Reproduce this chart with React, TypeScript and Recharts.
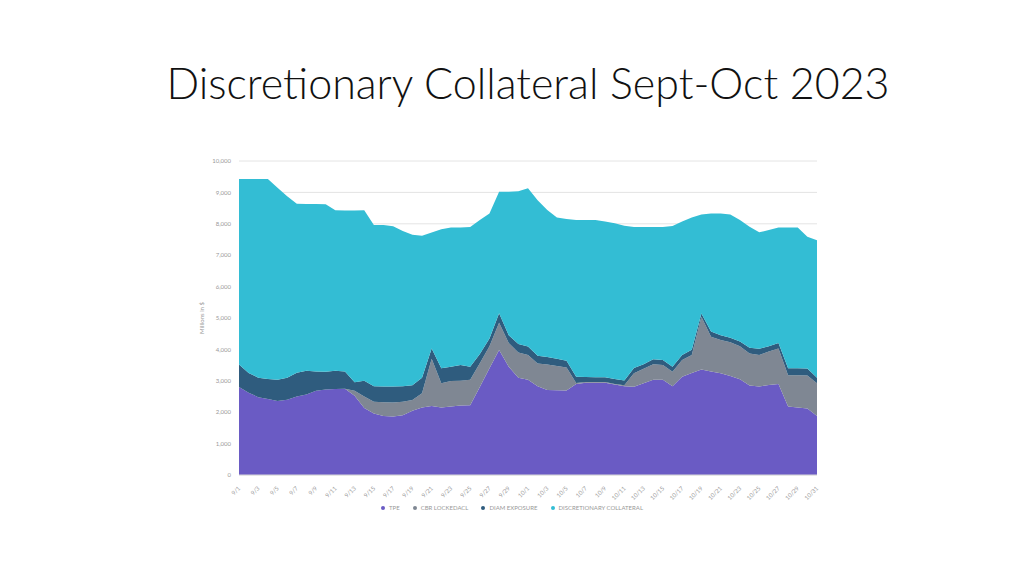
import React from 'react';
import { AreaChart, Area, XAxis, YAxis, CartesianGrid } from 'recharts';

const dates = [
  '9/1', '9/2', '9/3', '9/4', '9/5', '9/6', '9/7', '9/8', '9/9', '9/10',
  '9/11', '9/12', '9/13', '9/14', '9/15', '9/16', '9/17', '9/18', '9/19', '9/20',
  '9/21', '9/22', '9/23', '9/24', '9/25', '9/26', '9/27', '9/28', '9/29', '9/30',
  '10/1', '10/2', '10/3', '10/4', '10/5', '10/6', '10/7', '10/8', '10/9', '10/10',
  '10/11', '10/12', '10/13', '10/14', '10/15', '10/16', '10/17', '10/18', '10/19', '10/20',
  '10/21', '10/22', '10/23', '10/24', '10/25', '10/26', '10/27', '10/28', '10/29', '10/30',
  '10/31',
];

// millions of $
const tpe = [
  2800, 2620, 2480, 2420, 2360, 2400, 2500, 2560, 2680, 2720,
  2740, 2750, 2520, 2130, 1960, 1880, 1860, 1900, 2050, 2150,
  2200, 2150, 2180, 2210, 2220, 2800, 3400, 3980, 3450, 3100,
  3030, 2830, 2710, 2700, 2690, 2900, 2940, 2940, 2940, 2880,
  2830, 2810, 2920, 3030, 3030, 2830, 3130, 3250, 3360, 3300,
  3240, 3150, 3050, 2850, 2820, 2870, 2900, 2180, 2150, 2120,
  1880,
];
const cbrLocked = [
  0, 0, 0, 0, 0, 0, 0, 0, 0, 0,
  0, 0, 160, 370, 370, 440, 450, 430, 340, 450,
  1500, 770, 810, 790, 810, 760, 700, 870, 750, 800,
  790, 720, 810, 770, 730, 30, 20, 20, 20, 20,
  30, 430, 460, 500, 470, 460, 530, 570, 1680, 1100,
  1060, 1080, 1050, 1020, 1000, 1060, 1130, 1000, 1030, 1050,
  1040,
];
const diamExposure = [
  720, 630, 620, 640, 670, 700, 760, 760, 620, 570,
  580, 550, 270, 500, 500, 500, 510, 500, 470, 500,
  330, 480, 460, 500, 420, 290, 250, 300, 250, 270,
  270, 250, 240, 230, 220, 200, 160, 150, 150, 160,
  150, 170, 150, 160, 160, 160, 160, 170, 100, 170,
  150, 140, 150, 180, 200, 170, 170, 220, 220, 220,
  180,
];
const discretionary = [
  5910, 6180, 6330, 6370, 6120, 5780, 5380, 5310, 5330, 5330,
  5110, 5120, 5470, 5430, 5130, 5140, 5100, 4940, 4790, 4520,
  3690, 4430, 4430, 4380, 4450, 4270, 3980, 3870, 4570, 4870,
  5040, 4950, 4680, 4500, 4510, 4990, 5000, 5010, 4960, 4960,
  4930, 4490, 4370, 4210, 4240, 4480, 4250, 4210, 3160, 3760,
  3880, 3930, 3870, 3860, 3710, 3700, 3680, 4480, 4480, 4200,
  4380,
];

const yTicks = [0, 1000, 2000, 3000, 4000, 5000, 6000, 7000, 8000, 9000, 10000];

const series = [
  { key: 'tpe', name: 'TPE', color: '#6a5bc4' },
  { key: 'cbr', name: 'CBR LOCKEDACL', color: '#7f8793' },
  { key: 'diam', name: 'DIAM EXPOSURE', color: '#2f5c7e' },
  { key: 'disc', name: 'DISCRETIONARY COLLATERAL', color: '#33bdd4' },
];

const data = dates.map((d, i) => ({
  date: d,
  tpe: tpe[i],
  cbr: cbrLocked[i],
  diam: diamExposure[i],
  disc: discretionary[i],
}));

const XTick = (props: any) => {
  const { x, y, payload } = props;
  return (
    <text
      x={x}
      y={y + 4}
      transform={`rotate(-45, ${x}, ${y + 4})`}
      textAnchor="end"
      dominantBaseline="central"
      fontSize={6}
      fill="#999"
    >
      {payload.value}
    </text>
  );
};

export default function App() {
  return (
    <div
      style={{
        position: 'absolute',
        left: 0,
        top: 0,
        width: 1024,
        height: 576,
        background: '#fff',
        fontFamily: 'Lato, "Open Sans", sans-serif',
      }}
    >
      <div
        style={{
          position: 'absolute',
          left: 120,
          top: 57,
          width: 816,
          textAlign: 'center',
          fontSize: 43,
          fontWeight: 300,
          color: '#111',
          whiteSpace: 'nowrap',
          lineHeight: '52px',
        }}
      >
        Discretionary Collateral Sept-Oct 2023
      </div>

      <AreaChart
        width={1024}
        height={576}
        data={data}
        margin={{ top: 161, right: 207, bottom: 71, left: 209 }}
        style={{ position: 'absolute', left: 0, top: 0 }}
      >
        <CartesianGrid vertical={false} stroke="#e4e4e4" />
        <XAxis
          dataKey="date"
          interval={1}
          height={30}
          tick={<XTick />}
          tickLine={false}
          axisLine={{ stroke: '#d9d9d9' }}
        />
        <YAxis
          width={30}
          domain={[0, 10000]}
          ticks={yTicks}
          tickFormatter={(v: number) => v.toLocaleString('en-US')}
          tick={{ fontSize: 6, fill: '#999' }}
          tickLine={false}
          axisLine={false}
        />
        {series.map((s) => (
          <Area
            key={s.key}
            type="linear"
            dataKey={s.key}
            name={s.name}
            stackId="1"
            stroke="none"
            fill={s.color}
            fillOpacity={1}
            isAnimationActive={false}
          />
        ))}
      </AreaChart>

      <div
        style={{
          position: 'absolute',
          left: 201,
          top: 318,
          transform: 'translate(-50%, -50%) rotate(-90deg)',
          fontSize: 6,
          color: '#999',
          whiteSpace: 'nowrap',
        }}
      >
        Millions in $
      </div>

      <div
        style={{
          position: 'absolute',
          left: 0,
          top: 504,
          width: 1024,
          display: 'flex',
          justifyContent: 'center',
          gap: 13,
          fontSize: 6,
          color: '#999',
        }}
      >
        {series.map((s) => (
          <div key={s.key} style={{ display: 'flex', alignItems: 'center', gap: 4 }}>
            <span
              style={{
                display: 'inline-block',
                width: 4,
                height: 4,
                borderRadius: 2,
                background: s.color,
              }}
            />
            {s.name}
          </div>
        ))}
      </div>
    </div>
  );
}
